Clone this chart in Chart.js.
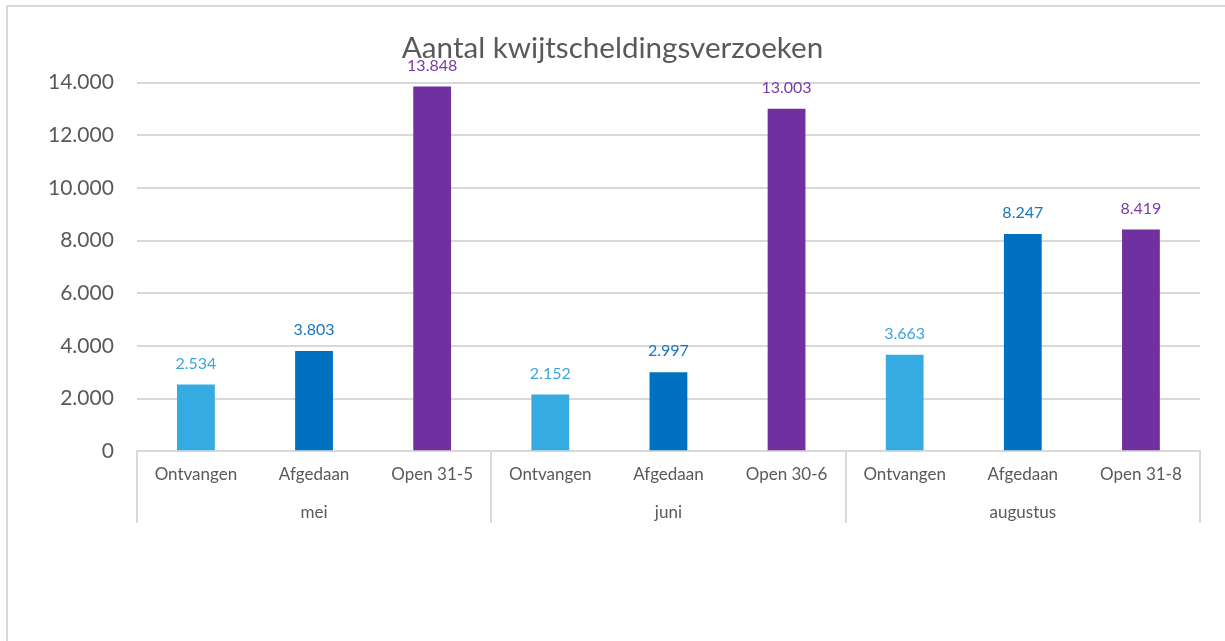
<!DOCTYPE html>
<html>
<head>
<meta charset="utf-8">
<script src="https://cdn.jsdelivr.net/npm/chart.js@4.4.1/dist/chart.umd.min.js"></script>
<style>
  html, body { margin: 0; padding: 0; background: #fff; overflow: hidden; }
  #frame { position: absolute; left: 6px; top: 5px; width: 1300px; height: 700px; border: 2px solid #d9d9d9; }
  #wrap { position: absolute; left: 0; top: 0; width: 1225px; height: 641px; }
</style>
</head>
<body>
<div id="frame"></div>
<div id="wrap"><canvas id="myChart" width="1225" height="641"></canvas></div>
<script>
const categories = ['Ontvangen', 'Afgedaan', 'Open 31-5', 'Ontvangen', 'Afgedaan', 'Open 30-6', 'Ontvangen', 'Afgedaan', 'Open 31-8'];
const months = ['mei', 'juni', 'augustus'];
const values = [2534, 3803, 13848, 2152, 2997, 13003, 3663, 8247, 8419];
const yTicks = [0, 2000, 4000, 6000, 8000, 10000, 12000, 14000];

const kindColors = ['#35abe2', '#0070c0', '#7030a0'];
const labelColors = ['#3aa6de', '#1a75c4', '#7a3aa8'];
const FONT = 'Lato, "Open Sans", sans-serif';

const fmt = v => String(v).replace(/\B(?=(\d{3})+(?!\d))/g, '.');

// value labels above the bars
const valueLabels = {
  id: 'valueLabels',
  afterDatasetsDraw(chart) {
    const ctx = chart.ctx;
    const meta = chart.getDatasetMeta(0);
    ctx.save();
    ctx.font = '16px ' + FONT;
    ctx.textAlign = 'center';
    ctx.textBaseline = 'middle';
    meta.data.forEach((bar, i) => {
      ctx.fillStyle = labelColors[i % 3];
      ctx.fillText(fmt(values[i]), bar.x, bar.y - 21);
    });
    ctx.restore();
  }
};

// vertical separators between the month groups, below the axis
const groupLines = {
  id: 'groupLines',
  afterDraw(chart) {
    const x = chart.scales.x;
    const x2 = chart.scales.x2;
    const step = x2.width / months.length;
    const ctx = chart.ctx;
    ctx.save();
    ctx.strokeStyle = '#d9d9d9';
    ctx.lineWidth = 2;
    for (let k = 0; k <= months.length; k++) {
      const px = Math.round(x2.left + k * step);
      ctx.beginPath();
      ctx.moveTo(px, x.top);
      ctx.lineTo(px, x2.bottom - 5);
      ctx.stroke();
    }
    ctx.restore();
  }
};

const ctx = document.getElementById('myChart');
new Chart(ctx, {
  type: 'bar',
  data: {
    labels: categories,
    datasets: [{
      data: values,
      backgroundColor: categories.map((c, i) => kindColors[i % 3]),
      barPercentage: 0.32,
      categoryPercentage: 1
    }]
  },
  options: {
    responsive: false,
    animation: false,
    layout: { padding: { top: 31, right: 25, left: 25, bottom: 113 } },
    plugins: {
      legend: { display: false },
      tooltip: { enabled: false },
      title: {
        display: true,
        text: 'Aantal kwijtscheldingsverzoeken',
        color: '#595959',
        font: { family: FONT, size: 29.6, weight: 'normal' },
        padding: { top: 0, bottom: 16 }
      }
    },
    scales: {
      x: {
        offset: true,
        border: { display: true, color: '#d9d9d9', width: 2 },
        grid: { display: false, drawTicks: false },
        ticks: {
          color: '#595959',
          font: { family: FONT, size: 17 },
          padding: 13,
          maxRotation: 0,
          autoSkip: false
        }
      },
      x2: {
        type: 'category',
        labels: months,
        position: 'bottom',
        offset: true,
        border: { display: false },
        grid: { display: false, drawTicks: false },
        ticks: {
          color: '#595959',
          font: { family: FONT, size: 17 },
          padding: 5
        }
      },
      y: {
        min: 0,
        max: 14000,
        afterBuildTicks: axis => { axis.ticks = yTicks.map(v => ({ value: v })); },
        border: { display: false },
        grid: { color: '#d9d9d9', lineWidth: 2, drawTicks: false },
        ticks: {
          color: '#595959',
          font: { family: FONT, size: 21 },
          padding: 23,
          callback: v => fmt(v)
        }
      }
    }
  },
  plugins: [valueLabels, groupLines]
});
</script>
</body>
</html>
